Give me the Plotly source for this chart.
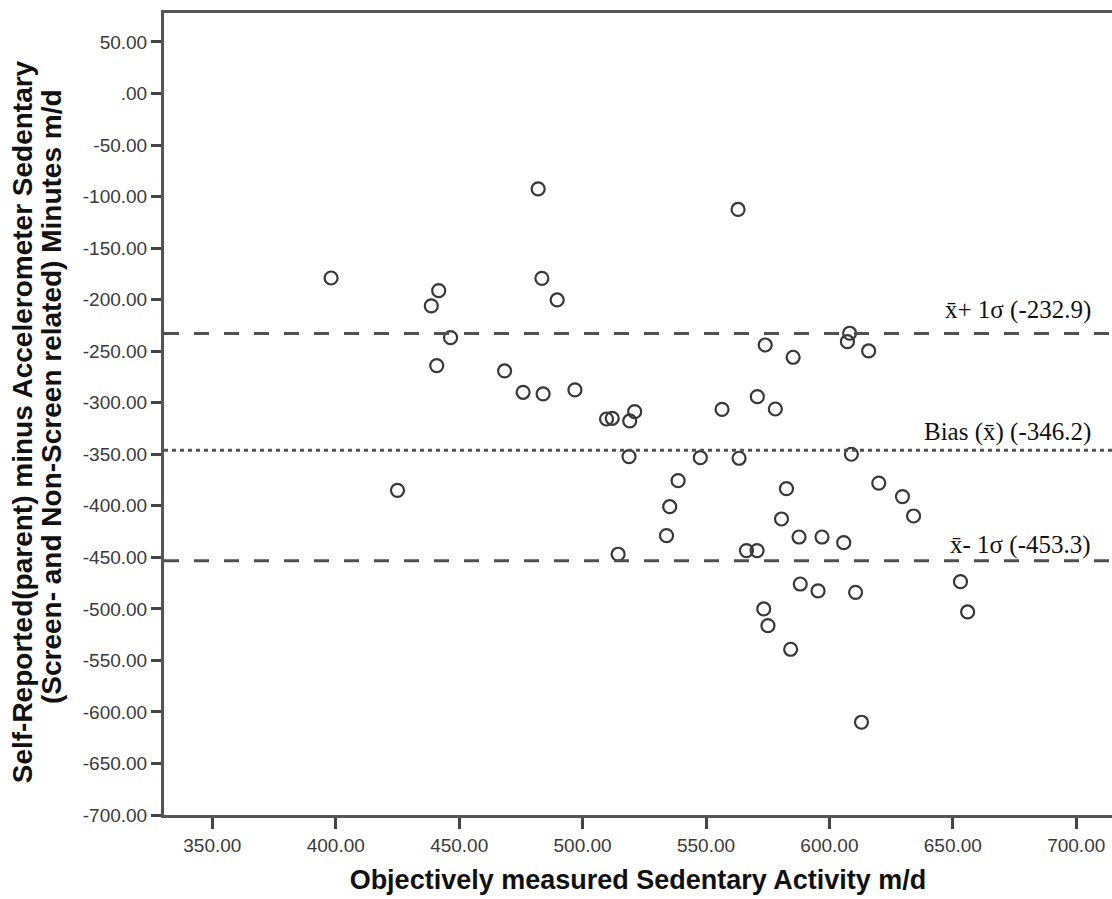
import plotly.graph_objects as go

# ---- data ----
objective_sedentary = [
    398.1, 425.0, 438.7, 441.7, 440.9, 446.5, 468.4, 475.9, 482.0, 483.5,
    484.0, 489.7, 496.9, 509.7, 512.0, 519.1, 521.1, 518.8, 514.4, 534.0,
    535.3, 538.7, 547.7, 556.5, 563.0, 563.4, 566.4, 570.7, 570.8, 573.4,
    575.1, 574.0, 578.1, 580.6, 582.6, 584.3, 585.3, 587.7, 588.2, 595.4,
    597.0, 605.8, 607.3, 608.2, 608.9, 610.6, 613.0, 615.9, 620.0, 629.6,
    634.1, 653.1, 656.0,
]
difference = [
    -179.0, -385.0, -206.1, -191.3, -264.0, -236.9, -269.2, -289.9, -92.6, -179.3,
    -291.5, -200.3, -287.6, -315.8, -315.1, -317.7, -308.7, -352.3, -447.0, -429.0,
    -400.9, -375.6, -353.3, -306.4, -112.5, -353.9, -443.5, -443.5, -294.1, -500.1,
    -516.3, -244.0, -306.1, -412.8, -383.4, -539.2, -255.9, -430.3, -475.9, -482.6,
    -430.3, -435.8, -240.8, -232.6, -350.0, -484.0, -610.0, -249.8, -378.0, -391.1,
    -409.9, -473.6, -503.0,
]
bias = -346.2
upper_limit = -232.9
lower_limit = -453.3
limit_labels = ["x\u0304+ 1\u03c3 (-232.9)", "Bias (x\u0304) (-346.2)", "x\u0304- 1\u03c3 (-453.3)"]

y_tickvals = [50, 0, -50, -100, -150, -200, -250, -300, -350, -400, -450, -500, -550, -600, -650, -700]
y_ticktext = ["50.00", ".00", "-50.00", "-100.00", "-150.00", "-200.00", "-250.00", "-300.00",
              "-350.00", "-400.00", "-450.00", "-500.00", "-550.00", "-600.00", "-650.00", "-700.00"]
x_tickvals = [350, 400, 450, 500, 550, 600, 650, 700]
x_ticktext = ["350.00", "400.00", "450.00", "500.00", "550.00", "600.00", "650.00", "700.00"]

x_title = "Objectively measured Sedentary Activity m/d"
y_title_lines = ["Self-Reported(parent) minus Accelerometer Sedentary",
                 "(Screen- and Non-Screen related) Minutes m/d"]

# ---- figure ----
fig = go.Figure()
fig.add_trace(go.Scatter(
    x=objective_sedentary, y=difference, mode="markers",
    marker=dict(symbol="circle-open", size=13, color="#383838", line=dict(width=2.2, color="#383838")),
    showlegend=False, hoverinfo="x+y",
))

line_color = "#505050"
for val, dash, w in [(upper_limit, "15px,15px", 3), (bias, "4px,4px", 3), (lower_limit, "15px,15px", 3)]:
    fig.add_shape(type="line", xref="paper", x0=0, x1=1, yref="y", y0=val, y1=val,
                  line=dict(color=line_color, width=w, dash=dash), layer="above")

label_offsets = [22.9, 18.1, 15.3]
for val, txt, off in zip([upper_limit, bias, lower_limit], limit_labels, label_offsets):
    fig.add_annotation(x=707.0, y=val + off, xref="x", yref="y", text=txt, showarrow=False,
                       xanchor="right", yanchor="middle",
                       font=dict(family="Liberation Serif", size=25, color="#111111"))

# y-axis title as two rotated lines
for txt, px, py in zip(y_title_lines, [-0.1495, -0.1185], [0.49, 0.522]):
    fig.add_annotation(x=px, y=py, xref="paper", yref="paper", text="<b>" + txt + "</b>",
                       showarrow=False, textangle=-90, xanchor="center", yanchor="middle",
                       font=dict(family="Liberation Sans", size=28, color="#111111"))

fig.update_layout(
    width=1112, height=899,
    margin=dict(l=164, r=0, t=13, b=84),
    paper_bgcolor="white", plot_bgcolor="white",
    font=dict(family="Liberation Sans", color="#333333"),
)
fig.update_xaxes(
    range=[330.4, 714.5], tickvals=x_tickvals, ticktext=x_ticktext,
    showgrid=False, zeroline=False, showline=True, linecolor="#555555", linewidth=3, mirror=True,
    ticks="outside", ticklen=11, tickwidth=2.5, tickcolor="#444444",
    tickfont=dict(family="Liberation Sans", size=19, color="#3a3a3a"),
    title=dict(text="<b>" + x_title + "</b>", font=dict(family="Liberation Sans", size=27, color="#111111"), standoff=16),
)
fig.update_yaxes(
    range=[-700, 78.1], tickvals=y_tickvals, ticktext=y_ticktext,
    showgrid=False, zeroline=False, showline=True, linecolor="#555555", linewidth=3,
    ticks="outside", ticklen=10, tickwidth=2.5, tickcolor="#444444",
    tickfont=dict(family="Liberation Sans", size=19, color="#3a3a3a"),
)

fig.write_html("out.html")
